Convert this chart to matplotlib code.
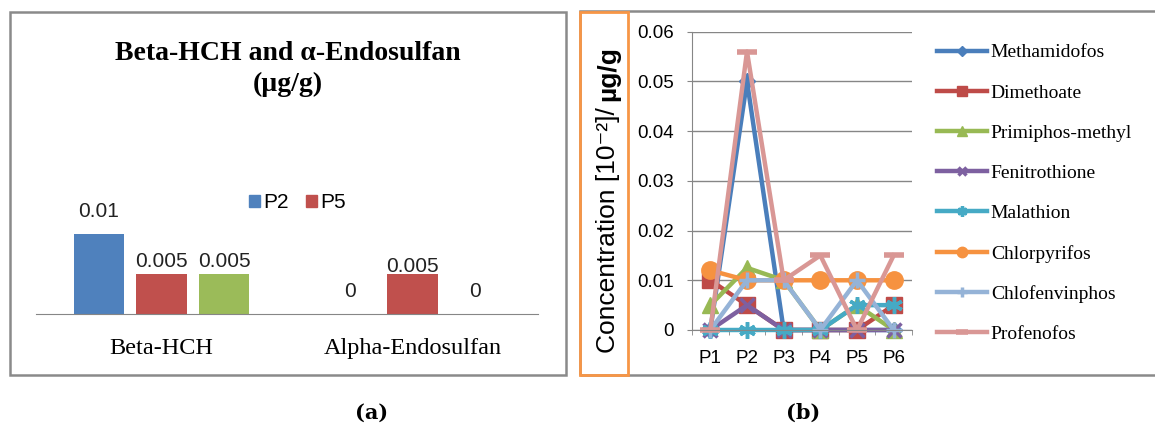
import matplotlib

matplotlib.use("Agg")
import matplotlib.pyplot as plt
import numpy as np
from matplotlib.patches import Patch, Rectangle

W, H = 1155, 425

# (a) bar chart data
bar_categories = ["Beta-HCH", "Alpha-Endosulfan"]
bar_series = ["P2", "P5", ""]
bar_values = [
    [0.01, 0.0],
    [0.005, 0.005],
    [0.005, 0.0],
]
bar_colors = ["#4F81BD", "#C0504D", "#9BBB59"]

# (b) line chart data
sites = ["P1", "P2", "P3", "P4", "P5", "P6"]
methamidofos = [0, 0.05, 0, 0, 0, 0]
dimethoate = [0.01, 0.005, 0, 0, 0, 0.005]
primiphos_methyl = [0.005, 0.0125, 0.01, 0, 0.005, 0]
fenitrothione = [0, 0.005, 0, 0, 0, 0]
malathion = [0, 0, 0, 0, 0.005, 0.005]
chlorpyrifos = [0.012, 0.01, 0.01, 0.01, 0.01, 0.01]
chlofenvinphos = [0, 0.01, 0.01, 0, 0.01, 0]
profenofos = [0, 0.056, 0.01, 0.015, 0, 0.015]

pesticides = ["Methamidofos", "Dimethoate", "Primiphos-methyl", "Fenitrothione",
              "Malathion", "Chlorpyrifos", "Chlofenvinphos", "Profenofos"]
series = [methamidofos, dimethoate, primiphos_methyl, fenitrothione,
          malathion, chlorpyrifos, chlofenvinphos, profenofos]
line_colors = ["#4A7EBB", "#BE4B48", "#98B954", "#7D60A0",
               "#46AAC5", "#F69240", "#95B3D7", "#D99795"]
markers = ["D", "s", "^", "x", (6, 2, 0), "o", "+", "_"]
marker_sizes = [8, 11, 11, 10, 12, 12.5, 11, 14]

GRAY = "#868686"
SANS = ["Liberation Sans", "DejaVu Sans"]
SERIF = ["Liberation Serif", "DejaVu Serif"]


def fbox(x0, y0, x1, y1):
    # pixel box (top-left origin) -> figure fraction rect
    return [x0 / W, 1 - y1 / H, (x1 - x0) / W, (y1 - y0) / H]


fig = plt.figure(figsize=(W / 100, H / 100), dpi=100)

# panel frames
fig.add_artist(Rectangle((10 / W, 1 - 375 / H), 556 / W, 363 / H, transform=fig.transFigure,
                         fill=False, ec="#8a8a8a", lw=1.8))
fig.add_artist(Rectangle((580 / W, 1 - 375 / H), 600 / W, 364 / H, transform=fig.transFigure,
                         fill=False, ec="#8a8a8a", lw=1.8))
fig.add_artist(Rectangle((580 / W, 1 - 375 / H), 48 / W, 363 / H, transform=fig.transFigure,
                         fill=False, ec="#F79646", lw=2, zorder=3))

# ---- (a) bars ----
axa = fig.add_axes(fbox(36, 114, 538, 314))
x = np.arange(len(bar_categories))
offsets = [-0.25, 0, 0.25]
# gap (px) between each value label and its bar top
label_gap = [[17, 17], [7, 2], [7, 17]]
for i, (name, vals, col) in enumerate(zip(bar_series, bar_values, bar_colors)):
    axa.bar(x + offsets[i], vals, width=0.2, color=col, label=name)
    for j, v in enumerate(vals):
        axa.annotate(f"{v:g}", (x[j] + offsets[i], v), xytext=(0, (label_gap[i][j] - 4) * 0.72),
                     textcoords="offset points", ha="center", va="bottom",
                     fontsize=15, family=SANS, color="#222222")
axa.set_xlim(-0.5, 1.5)
axa.set_ylim(0, 0.025)
for s in ["top", "left", "right"]:
    axa.spines[s].set_visible(False)
axa.spines["bottom"].set_color(GRAY)
axa.set_yticks([])
axa.set_xticks(x, bar_categories, fontsize=17.5, family=SERIF)
axa.tick_params(axis="x", length=0, pad=17.5)

handles = [Patch(color=c) for n, c in zip(bar_series, bar_colors) if n]
names = [n for n in bar_series if n]
axa.legend(handles, names, loc="center left", bbox_to_anchor=(249 / W, 1 - 203 / H),
           bbox_transform=fig.transFigure, ncol=2, frameon=False,
           prop={"family": SANS, "size": 15}, handlelength=0.53, handleheight=0.53,
           handletextpad=0.15, columnspacing=0.85, borderpad=0, borderaxespad=0)

fig.text(288 / W, 1 - 69 / H, "Beta-HCH and α-Endosulfan\n(µg/g)", ha="center", va="center",
         fontsize=20, fontweight="bold", family=SERIF, linespacing=1.33)

# ---- (b) lines ----
axb = fig.add_axes(fbox(692, 31.7, 912, 330))
xpos = np.arange(1, len(sites) + 1)
for name, vals, col, m, ms in zip(pesticides, series, line_colors, markers, marker_sizes):
    mew = 4 if m == "_" else (2.5 if m in ("x", "+") or isinstance(m, tuple) else 1)
    axb.plot(xpos, vals, color=col, lw=3.2, marker=m, ms=ms, mec=col, mfc=col, mew=mew,
             clip_on=False, label=name)
yt = np.arange(0, 0.061, 0.01)
axb.set_yticks(yt, [f"{v:g}" for v in yt], fontsize=13.5, family=SANS)
axb.set_ylim(0, 0.06)
axb.set_xlim(0.5, 6.5)
axb.set_xticks(xpos, sites, fontsize=13.5, family=SANS)
axb.set_xticks(np.arange(0.5, 7, 1), minor=True)
axb.yaxis.grid(True, color=GRAY, lw=1)
axb.set_axisbelow(True)
for s in ["top", "right"]:
    axb.spines[s].set_visible(False)
for s in ["left", "bottom"]:
    axb.spines[s].set_color(GRAY)
axb.tick_params(axis="x", which="major", length=0, pad=14.5)
axb.tick_params(axis="x", which="minor", length=3.6, color=GRAY)
axb.tick_params(axis="y", length=3.6, color=GRAY, pad=9.4)

axb.legend(loc="center left", bbox_to_anchor=(937 / W, 1 - 193.5 / H),
           bbox_transform=fig.transFigure, frameon=False,
           prop={"family": SERIF, "size": 14}, handlelength=2.57, handletextpad=0.2,
           labelspacing=1.16, markerscale=0.6, borderpad=0, borderaxespad=0)

# y label in two parts, second one bold
t1 = fig.text(615 / W, 1 - 353 / H, "Concentration [10⁻²]/", rotation=90, rotation_mode="anchor",
              ha="left", va="baseline", fontsize=19, family=SANS)
fig.canvas.draw()
bb = t1.get_window_extent()
fig.text(615 / W, (bb.y1 + 6) / H, "µg/g", rotation=90, rotation_mode="anchor",
         ha="left", va="baseline", fontsize=19, fontweight="bold", family=SANS)

fig.text(372 / W, 1 - 413 / H, "(a)", ha="center", va="center", fontsize=15,
         fontweight="bold", family="DejaVu Serif")
fig.text(803 / W, 1 - 413 / H, "(b)", ha="center", va="center", fontsize=15,
         fontweight="bold", family="DejaVu Serif")

fig.savefig("out.png", dpi=100)
